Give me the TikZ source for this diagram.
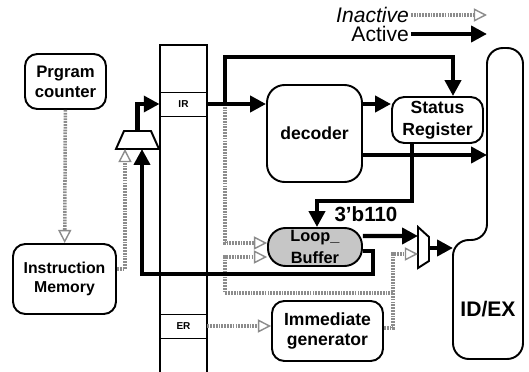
\documentclass[tikz,border=0pt]{standalone}
\usepackage{fontspec}
\setmainfont{Liberation Sans}
\usetikzlibrary{arrows.meta,calc}

\begin{document}
\begin{tikzpicture}[x=0.02cm,y=-0.02cm,>={Triangle[length=9pt,width=9pt]},
    unit/.style={draw,line width=1.1pt,rounded corners=7pt,align=center,inner sep=0pt},
    cell/.style={draw,line width=0.5pt,minimum width=0.94cm,minimum height=0.48cm,inner sep=0pt,font=\bfseries\fontsize{5.7}{6}\selectfont},
    act/.style={line width=2.3pt,->},
    inact/.style={line width=2pt,draw=black!45,dash pattern=on 1pt off 0.6pt,-{Triangle[open,length=7.5pt,width=7.5pt,line width=0.8pt]}}]
  \useasboundingbox (0,0) rectangle (529,372);
  % legend
  \node[anchor=east,inner sep=1pt,font=\itshape\fontsize{12}{14}\selectfont] (inactive) at (411,15) {Inactive};
  \node[anchor=east,inner sep=1pt,font=\fontsize{12}{14}\selectfont] (active) at (411,34) {Active};
  \coordinate (inactend) at (487,15);
  \coordinate (actend) at (487,34);
  % fetch side
  \node[unit,minimum width=1.62cm,minimum height=1.1cm,font=\bfseries\fontsize{9.5}{11.5}\selectfont] (pc) at (65.5,81.5) {Prgram\\counter};
  \node[unit,minimum width=2.06cm,minimum height=1.4cm,font=\bfseries\fontsize{9}{10.5}\selectfont] (imem) at (64.5,279) {Instruction\\Memory};
  % pipeline register column
  \draw[line width=0.9pt] (160,372) -- (160,45) -- (207,45) -- (207,372);
  \node[cell] (ir) at (183.5,104) {IR};
  \node[cell] (er) at (183.5,326) {ER};
  % muxes
  \draw[line width=1.1pt] (116,149) -- (124,131) -- (151,131) -- (159,149) -- cycle;
  \coordinate (m1out) at (137.5,131);
  \coordinate (m1in) at (142,149);
  \coordinate (m1inb) at (125,149);
  \draw[line width=1.1pt] (418,227) -- (429,237) -- (429,261) -- (418,268) -- cycle;
  \coordinate (m2in) at (418,236);
  \coordinate (m2inb) at (418,254);
  \coordinate (m2out) at (429,248);
  % decode side
  \node[unit,rounded corners=10pt,minimum width=1.9cm,minimum height=1.94cm,font=\bfseries\fontsize{10}{12}\selectfont] (dec) at (314.5,133.5) {decoder};
  \node[unit,minimum width=1.82cm,minimum height=0.92cm,font=\bfseries\fontsize{10}{12.5}\selectfont] (sr) at (437.5,120) {Status\\Register};
  \node[unit,fill=gray!45,rounded corners=10pt,minimum width=1.88cm,minimum height=0.76cm,font=\bfseries\fontsize{9.3}{13}\selectfont] (lb) at (315,247) {Loop\_\\Buffer};
  \node[unit,minimum width=2.22cm,minimum height=1.2cm,font=\bfseries\fontsize{10}{11.5}\selectfont] (imm) at (327.5,331) {Immediate\\generator};
  % ID/EX register
  \draw[line width=1.1pt,rounded corners=9pt] (523,200) -- (523,359) -- (453,359) -- (453,240) -- (487,240) -- (487,48) -- (523,48) -- cycle;
  \coordinate (idexL) at (487,48);
  \coordinate (idexB) at (453,359);
  \node[font=\bfseries\fontsize{12}{14}\selectfont] (idex) at (488,309) {ID/EX};
  \node[font=\bfseries\fontsize{11.7}{14}\selectfont] (code) at (366,214) {3'b110};
  \coordinate (irtap) at (225,104);
  \coordinate (srtop) at (453,57);
  \coordinate (srlb) at (412,201);
  \coordinate (loopc) at (373,274);
  \coordinate (immtap) at (393,293);
  \coordinate (lbin) at ([yshift=-0.2cm]lb.west);
  % inactive paths
  \draw[inact] (inactive.east) -- (inactend);
  \draw[inact] (pc) -- (imem);
  \draw[inact] ([yshift=0.2cm]imem.east) -| (m1inb);
  \draw[inact] (irtap) |- ([yshift=0.08cm]lb.west);
  \draw[inact] (er.east) -- (er.east -| imm.west);
  \draw[inact] ([yshift=0.06cm]imm.east) -| (immtap) |- (m2inb);
  \draw[inact] (immtap) -| (lbin -| irtap) -- (lbin);
  % active paths
  \draw[act] (active.east) -- (actend);
  \draw[act] (m1out) |- (ir.west);
  \draw[act] (ir.east) -- (ir.east -| dec.west);
  \draw[act] (irtap) |- (srtop) -- (srtop |- sr.north);
  \draw[act] (ir.east -| dec.east) -- (ir.east -| sr.west);
  \draw[act] ([yshift=-0.43cm]dec.east) -- ([yshift=-0.43cm]dec.east -| idexL);
  \draw[act] (srlb |- sr.south) -- (srlb) -| ([xshift=0.04cm]lb.north);
  \draw[act] ([yshift=0.22cm]lb.east) -- (m2in);
  \draw[act] (m2out) -- (m2out -| idexB);
  \draw[act] ([yshift=-0.08cm]lb.east) -| (loopc) -| (m1in);
\end{tikzpicture}
\end{document}
